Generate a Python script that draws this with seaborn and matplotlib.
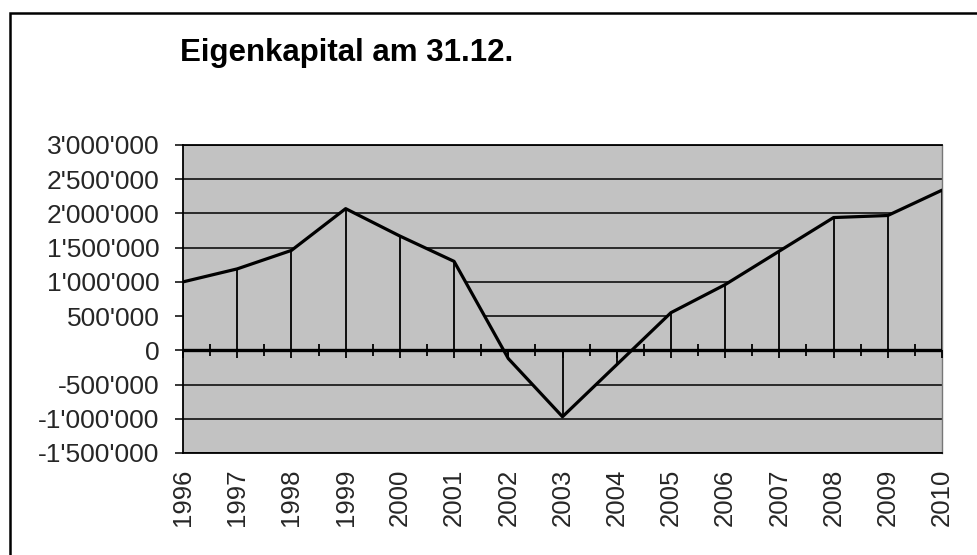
import numpy as np
import pandas as pd
import matplotlib
matplotlib.use("Agg")
import matplotlib.pyplot as plt
from matplotlib.patches import Rectangle
from matplotlib.ticker import FuncFormatter
import seaborn as sns

# ---- data ----
years = [1996, 1997, 1998, 1999, 2000, 2001, 2002, 2003,
         2004, 2005, 2006, 2007, 2008, 2009, 2010]
equity = [1000000, 1190000, 1460000, 2070000, 1670000, 1300000, -120000, -970000,
          -210000, 550000, 960000, 1450000, 1940000, 1970000, 2340000]
year_labels = [str(y) for y in years]
y_ticks = [-1500000, -1000000, -500000, 0, 500000, 1000000, 1500000,
           2000000, 2500000, 3000000]
title = "Eigenkapital am 31.12."

df = pd.DataFrame({"Jahr": years, "Eigenkapital": equity})

sns.set_theme(style="white")
plt.rcParams["font.family"] = ["Liberation Sans", "DejaVu Sans"]

W, H = 978, 555
fig = plt.figure(figsize=(W / 100, H / 100), dpi=100)
fig.patch.set_facecolor("white")

left, right, top, bottom = 183, 942, 145, 453
ax = fig.add_axes([left / W, 1 - bottom / H, (right - left) / W, (bottom - top) / H])

bg = "#c2c2c2"
ax.set_facecolor(bg)

# gridlines (behind the area)
ax.set_axisbelow(True)
ax.yaxis.grid(True, color="black", lw=1.1)
ax.xaxis.grid(False)

# area fill (same gray, covers gridlines)
ax.fill_between(df["Jahr"], df["Eigenkapital"], 0, color=bg, lw=0, zorder=1)

# drop lines
ax.vlines(df["Jahr"], 0, df["Eigenkapital"], color="black", lw=1.3, zorder=2)

# zero axis
ax.axhline(0, color="black", lw=2.4, zorder=3)

# ticks on the zero axis: majors downward at years, minors crossing at half years
yrs = np.array(years, dtype=float)
ax.plot(yrs, np.zeros_like(yrs), ls="none", marker=3, ms=6, mew=1.3,
        color="black", zorder=3, clip_on=False)
mids = (yrs[:-1] + yrs[1:]) / 2
ax.plot(mids, np.zeros_like(mids), ls="none", marker="|", ms=9, mew=1.3,
        color="black", zorder=3)

# line
sns.lineplot(data=df, x="Jahr", y="Eigenkapital", color="black", lw=2.3,
             ax=ax, zorder=4)

ax.set_xlim(years[0], years[-1])
ax.set_ylim(y_ticks[0], y_ticks[-1])
ax.set_yticks(y_ticks)
ax.yaxis.set_major_formatter(FuncFormatter(lambda v, p: f"{v:,.0f}".replace(",", "'")))
ax.set_xticks(years)
ax.set_xticklabels(year_labels, rotation=90)
ax.tick_params(axis="y", which="major", direction="out", length=6, width=1.1,
               color="black", labelsize=19, pad=11, left=True)
ax.tick_params(axis="x", which="major", length=0, labelsize=18.5, pad=11)
ax.set_xlabel("")
ax.set_ylabel("")

for s in ["left", "bottom", "top"]:
    ax.spines[s].set_visible(True)
    ax.spines[s].set_color("black")
    ax.spines[s].set_linewidth(1.3)
ax.spines["right"].set_visible(True)
ax.spines["right"].set_color("#777777")
ax.spines["right"].set_linewidth(1.0)

# title
fig.text(180 / W, 1 - 61 / H, title, ha="left", va="baseline",
         fontsize=22.5, fontweight="bold", color="black")

# outer frame (cut off at right and bottom)
fig.add_artist(Rectangle((10 / W, -0.1), 1.2, 1 - 13 / H + 0.1, transform=fig.transFigure,
                         fill=False, edgecolor="black", lw=1.8, clip_on=False))

fig.savefig("out.png", dpi=100, facecolor="white")
